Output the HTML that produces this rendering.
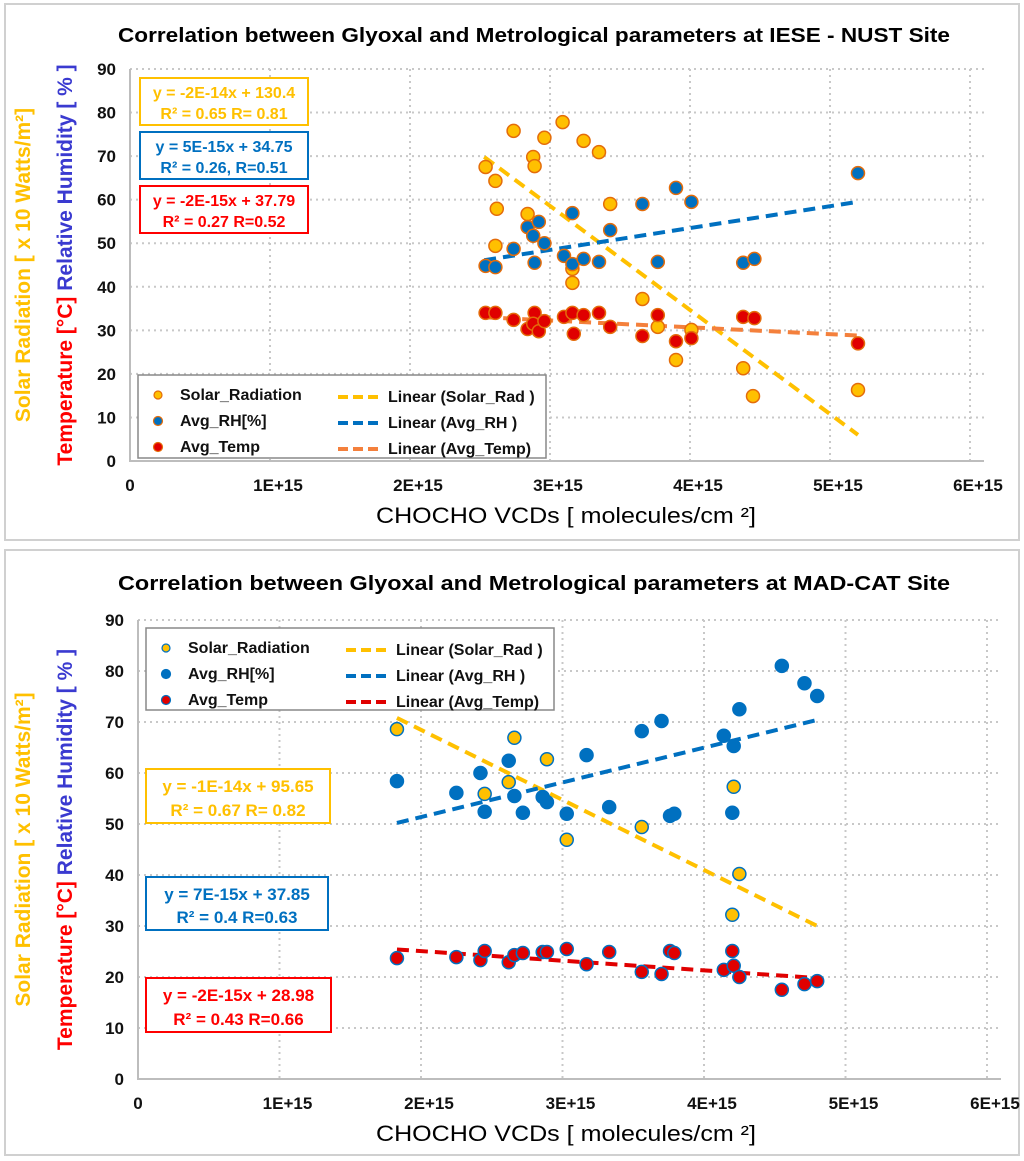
<!DOCTYPE html>
<html><head><meta charset="utf-8"><style>
body{margin:0;background:#fff}
svg{display:block;font-family:"Liberation Sans",sans-serif}
</style></head><body>
<svg id="chart" width="1024" height="1161" viewBox="0 0 1024 1161" xmlns="http://www.w3.org/2000/svg">
<rect x="5" y="4" width="1014" height="536" fill="#fff" stroke="#d0d0d0" stroke-width="2"/>
<rect x="5" y="550" width="1014" height="605" fill="#fff" stroke="#d0d0d0" stroke-width="2"/>
</svg>
<script>
// ---- Top panel (IESE - NUST) data ----
const topSolarX = [2.54,2.61,2.62,2.61,2.74,2.88,2.89,2.84,2.96,3.09,3.24,3.35,3.43,3.16,3.16,3.66,3.77,4.01,3.90,4.38,4.45,5.20];
const topSolarY = [67.5,64.3,57.9,49.4,75.8,69.8,67.7,56.7,74.2,77.8,73.5,70.9,59.0,44.1,40.9,37.2,30.8,30.1,23.2,21.3,14.9,16.3];
const topRHX = [2.54,2.61,2.74,2.84,2.88,2.92,2.96,2.89,3.10,3.16,3.16,3.24,3.35,3.43,3.66,3.77,3.90,4.01,4.38,4.46,5.20];
const topRHY = [44.8,44.5,48.7,53.7,51.7,54.9,50.0,45.5,47.1,56.9,45.2,46.4,45.7,53.0,59.0,45.7,62.7,59.5,45.5,46.4,66.1];
const topTempX = [2.54,2.61,2.74,2.84,2.89,2.88,2.92,2.96,3.10,3.16,3.17,3.24,3.35,3.43,3.66,3.77,3.90,4.01,4.38,4.46,5.20];
const topTempY = [34.0,34.0,32.4,30.3,34.0,31.5,29.8,32.1,33.1,34.0,29.2,33.5,34.0,30.8,28.7,33.5,27.5,28.2,33.1,32.8,27.0];
// trendline values at the start / end of the x range [start, end]
const topTrendX = [2.53, 5.2];
const topSolarTrend = [69.8, 6.0];
const topRHTrend = [46.1, 59.5];
const topTempTrend = [33.0, 28.8];
// ---- Bottom panel (MAD-CAT) data ----
const botSolarX = [1.83,2.66,2.89,2.62,2.45,3.03,3.56,4.21,4.25,4.20];
const botSolarY = [68.6,66.9,62.7,58.2,55.9,46.9,49.4,57.3,40.2,32.2];
const botRHX = [1.83,2.25,2.42,2.45,2.62,2.66,2.72,2.86,2.89,3.03,3.17,3.33,3.56,3.70,3.76,3.79,4.14,4.21,4.20,4.25,4.55,4.71,4.80];
const botRHY = [58.4,56.1,60.0,52.4,62.4,55.5,52.2,55.3,54.3,52.0,63.5,53.3,68.2,70.2,51.6,52.0,67.3,65.3,52.2,72.5,81.0,77.6,75.1];
const botTempX = [1.83,2.25,2.42,2.45,2.62,2.66,2.72,2.86,2.89,3.03,3.17,3.33,3.56,3.70,3.76,3.79,4.14,4.21,4.20,4.25,4.55,4.71,4.80];
const botTempY = [23.7,23.9,23.3,25.1,22.9,24.3,24.7,24.9,24.9,25.5,22.5,24.9,21.0,20.6,25.1,24.7,21.4,22.2,25.1,20.0,17.5,18.6,19.2];
const botTrendX = [1.83, 4.8];
const botSolarTrend = [70.8, 30.0];
const botRHTrend = [50.2, 70.4];
const botTempTrend = [25.4, 19.8];
// tick labels
const xTickLabels = ["0","1E+15","2E+15","3E+15","4E+15","5E+15","6E+15"];
const yTickLabels = ["0","10","20","30","40","50","60","70","80","90"];

const NS="http://www.w3.org/2000/svg";
const svg=document.getElementById('chart');
function mk(tag,attrs,parent,text){
  const e=document.createElementNS(NS,tag);
  for(const k in attrs) e.setAttribute(k,attrs[k]);
  if(text!==undefined) e.textContent=text;
  (parent||svg).appendChild(e);return e;
}

function panel(cfg){
  const g=mk('g',{});
  
  
  const X=v=>cfg.x0+v*cfg.xs, Y=v=>cfg.y0-v*cfg.ys;
  const xr=X(6)+14;
  for(let i=1;i<yTickLabels.length;i++){
    const l=mk('line',{x1:cfg.x0,x2:xr,y1:Y(i*10),y2:Y(i*10),stroke:'#c8c8c8','stroke-width':2,'stroke-dasharray':'2 4'},g);
    
    
  }
  for(let i=1;i<xTickLabels.length;i++){
    const l=mk('line',{x1:X(i),x2:X(i),y1:Y(90),y2:cfg.y0,stroke:'#c8c8c8','stroke-width':2,'stroke-dasharray':'2 4'},g);
    
    
  }
  const ax=mk('path',{d:`M${cfg.x0},${Y(90)} V${cfg.y0} H${xr}`,fill:'none',stroke:'#bdbdbd','stroke-width':2},g);
  
  
  yTickLabels.forEach((t,i)=>{
    const e=mk('text',{x:cfg.x0-14,y:Y(i*10)+6,'text-anchor':'end','font-size':17,'font-weight':'bold',fill:'#111'},g,t);
    
    
  });
  xTickLabels.forEach((t,i)=>{
    const e=mk('text',{x:X(i)+(i?8:0),y:cfg.y0+30,'text-anchor':'middle','font-size':17,'font-weight':'bold',fill:'#111'},g,t);
    
    
  });
  const tt=mk('text',{x:118,y:cfg.titleY,'font-size':20,'font-weight':'bold',fill:'#000',textLength:832,lengthAdjust:'spacingAndGlyphs'},g,cfg.title);
  
  
  const xt=mk('text',{x:376,y:cfg.y0+62,'font-size':22,fill:'#000',textLength:380,lengthAdjust:'spacingAndGlyphs'},g,'CHOCHO VCDs [ molecules/cm ²]');
  
  
  const cy=(Y(90)+cfg.y0)/2;
  const y1=mk('text',{transform:`translate(30,${cy}) rotate(-90)`,'text-anchor':'middle','font-size':21,'font-weight':'bold',fill:'#ffc000'},g,'Solar Radiation [ x 10  Watts/m²]');
  
  
  const y2=mk('text',{transform:`translate(72,${cy}) rotate(-90)`,'text-anchor':'middle','font-size':21,'font-weight':'bold'},g);
  
  
  mk('tspan',{fill:'#ff0000'},y2,'Temperature [°C] ');
  mk('tspan',{fill:'#3a3ad0'},y2,'Relative Humidity [ % ]');
  cfg.series.forEach(s=>{
    const tx=cfg.trendX;
    const l=mk('line',{x1:X(tx[0]),y1:Y(s.tr[0]),x2:X(tx[1]),y2:Y(s.tr[1]),stroke:s.trend,'stroke-width':4,'stroke-dasharray':'12 7'},g);
    
    
  });
  cfg.series.forEach(s=>{
    s.xs.forEach((v,i)=>{
      const c=mk('circle',{cx:X(v),cy:Y(s.ys[i]),r:6.5,fill:s.fill,stroke:cfg.stroke||s.stroke,'stroke-width':1.5},g);
      
      
    });
  });
  cfg.eqs.forEach(q=>{
    const bg=mk('g',{},g);
    
    
    mk('rect',{x:q.x,y:q.y,width:q.w,height:q.h,fill:'#fff',stroke:q.c,'stroke-width':2},bg);
    mk('text',{x:q.x+q.w/2,y:q.y+q.h*0.43,'text-anchor':'middle','font-size':q.fs,'font-weight':'bold',fill:q.c},bg,q.l1);
    mk('text',{x:q.x+q.w/2,y:q.y+q.h*0.87,'text-anchor':'middle','font-size':q.fs,'font-weight':'bold',fill:q.c},bg,q.l2);
  });
  const L=cfg.legend;
  const lg=mk('g',{},g);
  
  
  mk('rect',{x:L.x,y:L.y,width:408,height:L.h,fill:'#fff',stroke:'#888','stroke-width':1.5},lg);
  const names=['Solar_Radiation','Avg_RH[%]','Avg_Temp'];
  const tn=['Linear (Solar_Rad )','Linear (Avg_RH )','Linear (Avg_Temp)'];
  cfg.series.forEach((s,i)=>{
    const yy=L.y+20+i*26;
    const e=mk('g',{},lg);
    
    
    mk('circle',{cx:L.x+20,cy:yy,r:i==0?4:4.5,fill:s.fill,stroke:cfg.stroke||s.stroke,'stroke-width':1.2},e);
    mk('text',{x:L.x+42,y:yy+5,'font-size':16,'font-weight':'bold',fill:'#111'},e,names[i]);
    mk('line',{x1:L.x+200,x2:L.x+242,y1:yy+2,y2:yy+2,stroke:s.trend,'stroke-width':4,'stroke-dasharray':'10 5'},e);
    mk('text',{x:L.x+250,y:yy+7,'font-size':16,'font-weight':'bold',fill:'#111'},e,tn[i]);
  });
}

panel({name:'top-chart-iese-nust',x0:130,xs:140,y0:461,ys:4.356,titleY:42,trendX:topTrendX,
  title:'Correlation between Glyoxal and Metrological parameters at IESE - NUST Site',
  series:[
    {key:'solar-radiation',xs:topSolarX,ys:topSolarY,tr:topSolarTrend,fill:'#ffc000',stroke:'#e46c0a',trend:'#ffc000'},
    {key:'avg-rh',xs:topRHX,ys:topRHY,tr:topRHTrend,fill:'#0070c0',stroke:'#e46c0a',trend:'#0070c0'},
    {key:'avg-temp',xs:topTempX,ys:topTempY,tr:topTempTrend,fill:'#e00000',stroke:'#e46c0a',trend:'#f4803c'}],
  eqs:[
    {name:'equation-solar',x:140,y:78,w:168,h:47,fs:16,c:'#ffc000',l1:'y = -2E-14x + 130.4',l2:'R² = 0.65  R= 0.81'},
    {name:'equation-rh',x:140,y:132,w:168,h:47,fs:16,c:'#0070c0',l1:'y = 5E-15x + 34.75',l2:'R² = 0.26, R=0.51'},
    {name:'equation-temp',x:140,y:186,w:168,h:47,fs:16,c:'#ff0000',l1:'y = -2E-15x + 37.79',l2:'R² = 0.27  R=0.52'}],
  legend:{x:138,y:375,h:83}
});
panel({name:'bottom-chart-mad-cat',x0:138,xs:141.5,y0:1079,ys:5.1,titleY:590,trendX:botTrendX,
  title:'Correlation between Glyoxal and Metrological parameters at MAD-CAT Site',
  stroke:'#0070c0',
  series:[
    {key:'solar-radiation',xs:botSolarX,ys:botSolarY,tr:botSolarTrend,fill:'#ffc000',trend:'#ffc000'},
    {key:'avg-rh',xs:botRHX,ys:botRHY,tr:botRHTrend,fill:'#0070c0',trend:'#0070c0'},
    {key:'avg-temp',xs:botTempX,ys:botTempY,tr:botTempTrend,fill:'#e00000',trend:'#e00000'}],
  eqs:[
    {name:'equation-solar',x:146,y:769,w:184,h:54,fs:17,c:'#ffc000',l1:'y = -1E-14x  + 95.65',l2:'R² = 0.67  R= 0.82'},
    {name:'equation-rh',x:146,y:877,w:182,h:53,fs:17,c:'#0070c0',l1:'y =  7E-15x  + 37.85',l2:'R² = 0.4  R=0.63'},
    {name:'equation-temp',x:146,y:978,w:185,h:54,fs:17,c:'#ff0000',l1:'y = -2E-15x  + 28.98',l2:'R² = 0.43  R=0.66'}],
  legend:{x:146,y:628,h:82}
});
</script>
</body></html>
